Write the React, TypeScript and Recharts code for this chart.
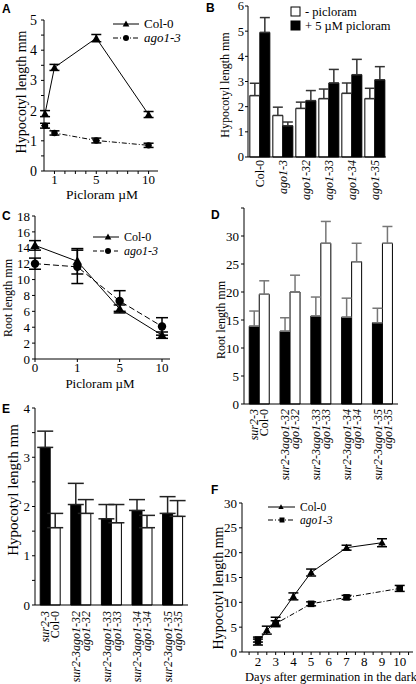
import React from "react";
import { Bar, BarChart, ErrorBar, Line, LineChart, XAxis, YAxis } from "recharts";

const W = 416;
const H = 684;
const SERIF = "'Liberation Serif', 'Times New Roman', serif";
const SANS = "'Liberation Sans', Arial, sans-serif";

// A: hypocotyl length vs picloram
const doseA = [0.1, 1, 5, 10];
const colA = [1.9, 3.43, 4.4, 1.87];
const colAErr = [0.1, 0.1, 0.12, 0.1];
const agoA = [1.5, 1.26, 1.01, 0.85];
const agoAErr = [0.08, 0.07, 0.08, 0.07];

// B: hypocotyl length, -/+ picloram
const linesB = ["Col-0", "ago1-3", "ago1-32", "ago1-33", "ago1-34", "ago1-35"];
const minusB = [2.44, 1.65, 1.93, 2.32, 2.53, 2.32];
const minusBErr = [0.49, 0.33, 0.25, 0.38, 0.41, 0.41];
const plusB = [4.95, 1.24, 2.24, 2.94, 3.27, 3.07];
const plusBErr = [0.59, 0.15, 0.4, 0.54, 0.61, 0.52];

// C: root length vs picloram
const doseC = ["0", "1", "5", "10"];
const colC = [14.3, 12.3, 6.3, 3.0];
const colCErr = [0.6, 1.6, 0.5, 0.4];
const agoC = [12.0, 11.6, 7.3, 4.1];
const agoCErr = [0.7, 2.1, 1.3, 1.1];

// D / E categories
const mutantsDE = ["sur2-3", "sur2-3ago1-32", "sur2-3ago1-33", "sur2-3ago1-34", "sur2-3ago1-35"];
const controlsDE = ["Col-0", "ago1-32", "ago1-33", "ago1-34", "ago1-35"];

// D: root length
const mutantD = [13.9, 13.0, 15.7, 15.5, 14.5];
const mutantDErr = [2.7, 2.4, 3.4, 3.4, 2.6];
const controlD = [19.6, 20.0, 28.7, 25.4, 28.7];
const controlDErr = [2.4, 3.0, 3.9, 3.3, 3.0];

// E: hypocotyl length
const mutantE = [3.2, 2.04, 1.75, 1.92, 1.86];
const mutantEErr = [0.33, 0.43, 0.29, 0.22, 0.34];
const controlE = [1.57, 1.86, 1.67, 1.57, 1.8];
const controlEErr = [0.29, 0.28, 0.37, 0.25, 0.32];

// F: hypocotyl length in the dark
const daysCol = [2, 2.5, 3, 4, 5, 7, 9];
const colF = [2.0, 4.4, 6.2, 11.2, 16.0, 21.0, 22.0];
const colFErr = [0.6, 0.8, 0.8, 0.7, 0.7, 0.5, 0.8];
const daysAgo = [2, 3, 5, 7, 10];
const agoF = [2.5, 5.7, 9.7, 11.0, 12.8];
const agoFErr = [0.5, 0.6, 0.4, 0.4, 0.6];

const dataA = doseA.map((d, i) => ({ dose: d, col: colA[i], colErr: colAErr[i], ago: agoA[i], agoErr: agoAErr[i] }));
const dataB = linesB.map((l, i) => ({
  line: l,
  minus: minusB[i],
  minusErr: [0, minusBErr[i]],
  plus: plusB[i],
  plusErr: [0, plusBErr[i]],
}));
const dataC = doseC.map((d, i) => ({ dose: d, col: colC[i], colErr: colCErr[i], ago: agoC[i], agoErr: agoCErr[i] }));
const dataD = mutantsDE.map((m, i) => ({
  idx: i,
  mutant: mutantD[i],
  mutantErr: [0, mutantDErr[i]],
  control: controlD[i],
  controlErr: [0, controlDErr[i]],
}));
const dataE = mutantsDE.map((m, i) => ({
  idx: i,
  mutant: mutantE[i],
  mutantErr: [0, mutantEErr[i]],
  control: controlE[i],
  controlErr: [0, controlEErr[i]],
}));
const dataFCol = daysCol.map((d, i) => ({ day: d, v: colF[i], err: colFErr[i] }));
const dataFAgo = daysAgo.map((d, i) => ({ day: d, v: agoF[i], err: agoFErr[i] }));

// plot box (page coords) -> chart margins
const box = (l: number, t: number, r: number, b: number, yw = 30, xh = 30) => ({
  left: l - yw,
  top: t,
  right: W - r,
  bottom: H - b - xh,
});

const range = (a: number, b: number, s: number) => {
  const out: number[] = [];
  for (let v = a; v <= b + 1e-9; v += s) out.push(Math.round(v * 100) / 100);
  return out;
};
const intOnly = (v: number) => (Number.isInteger(v) ? String(v) : "");

const tickStyle = (size = 13) => ({ fill: "#000", fontSize: size, fontFamily: SERIF });
const axisProps = { stroke: "#000", axisLine: { stroke: "#000" }, tickLine: { stroke: "#000" } };

const Tri = ({ cx, cy, r }: { cx: number; cy: number; r: number }) => (
  <path d={`M${cx},${cy - r} L${cx + r * 0.95},${cy + r * 0.7} L${cx - r * 0.95},${cy + r * 0.7} Z`} fill="#000" />
);
const Sq = ({ cx, cy, r }: { cx: number; cy: number; r: number }) => (
  <rect x={cx - r} y={cy - r} width={r * 2} height={r * 2} fill="#000" />
);

const triDot = (r: number) => (p: any) => <Tri key={`t${p.index}`} cx={p.cx} cy={p.cy} r={r} />;
const circDot = (r: number) => (p: any) => <circle key={`c${p.index}`} cx={p.cx} cy={p.cy} r={r} fill="#000" />;
const sqDot = (r: number) => (p: any) => <Sq key={`s${p.index}`} cx={p.cx} cy={p.cy} r={r} />;

const Letter = ({ x, y, t }: { x: number; y: number; t: string }) => (
  <text x={x} y={y} fontFamily={SANS} fontWeight="bold" fontSize={12} fill="#000">
    {t}
  </text>
);

const VTitle = ({ x, y, t, size = 13 }: { x: number; y: number; t: string; size?: number }) => (
  <text
    x={x}
    y={y}
    transform={`rotate(-90 ${x} ${y})`}
    textAnchor="middle"
    dominantBaseline="central"
    fontFamily={SERIF}
    fontSize={size}
    fill="#000"
  >
    {t}
  </text>
);

const HTitle = ({ x, y, t, size = 13 }: { x: number; y: number; t: string; size?: number }) => (
  <text x={x} y={y} textAnchor="middle" fontFamily={SERIF} fontSize={size} fill="#000">
    {t}
  </text>
);

const LegendRow = ({
  x1, x2, y, label, marker, dash, italic, size = 12,
}: {
  x1: number; x2: number; y: number; label: string; marker: React.ReactNode; dash?: string; italic?: boolean; size?: number;
}) => (
  <g>
    <line x1={x1} x2={x2} y1={y} y2={y} stroke="#000" strokeWidth={1} strokeDasharray={dash} />
    {marker}
    <text x={x2 + 5} y={y + size * 0.33} fontFamily={SERIF} fontSize={size} fontStyle={italic ? "italic" : "normal"} fill="#000">
      {label}
    </text>
  </g>
);

const RotTick = (props: any) => {
  const { x, y, payload } = props;
  const t = String(payload.value);
  return (
    <text
      x={x}
      y={y}
      transform={`rotate(-90 ${x} ${y})`}
      textAnchor="end"
      dominantBaseline="central"
      fontFamily={SERIF}
      fontSize={12}
      fontStyle={t === "Col-0" ? "normal" : "italic"}
      fill="#000"
    >
      {t}
    </text>
  );
};

const PairTick = (props: any) => {
  const { x, y, payload } = props;
  const i = Number(payload.value);
  const labels = [mutantsDE[i], controlsDE[i]];
  return (
    <g>
      {labels.map((t, k) => {
        const xx = x + (k === 0 ? -5 : 5);
        return (
          <text
            key={k}
            x={xx}
            y={y}
            transform={`rotate(-90 ${xx} ${y})`}
            textAnchor="end"
            dominantBaseline="central"
            fontFamily={SERIF}
            fontSize={12}
            fontStyle={t === "Col-0" ? "normal" : "italic"}
            fill="#000"
          >
            {t}
          </text>
        );
      })}
    </g>
  );
};

const Layer = ({ children }: { children: React.ReactNode }) => (
  <div style={{ position: "absolute", left: 0, top: 0, width: W, height: H }}>{children}</div>
);

function PanelA() {
  return (
    <LineChart width={W} height={H} data={dataA} margin={box(44, 20, 158, 171)}>
      <XAxis
        type="number"
        dataKey="dose"
        domain={[0, 10.9]}
        ticks={range(1, 10, 1)}
        interval={0}
        tickFormatter={(v: number) => ([1, 5, 10].includes(v) ? String(v) : "")}
        tickSize={3}
        tickMargin={1}
        tick={tickStyle(13)}
        height={30}
        {...axisProps}
      />
      <YAxis
        type="number"
        domain={[0, 5]}
        ticks={range(0, 5, 0.5)}
        interval={0}
        tickFormatter={intOnly}
        tickSize={3}
        tickMargin={4}
        tick={tickStyle(14)}
        width={30}
        {...axisProps}
      />
      <Line dataKey="col" stroke="#000" strokeWidth={1} dot={triDot(4)} isAnimationActive={false}>
        <ErrorBar dataKey="colErr" width={5} stroke="#000" direction="y" />
      </Line>
      <Line dataKey="ago" stroke="#000" strokeWidth={1} strokeDasharray="5 2 1 2" dot={circDot(3.2)} isAnimationActive={false}>
        <ErrorBar dataKey="agoErr" width={5} stroke="#000" direction="y" />
      </Line>
      <Letter x={2} y={13} t="A" />
      <VTitle x={21} y={92} t="Hypocotyl length mm" size={14} />
      <HTitle x={102} y={199} t="Picloram µM" size={13.5} />
      <LegendRow x1={113} x2={139} y={24} label="Col-0" size={13} marker={<Tri cx={126} cy={24} r={3.5} />} />
      <LegendRow x1={113} x2={139} y={38} label="ago1-3" italic size={13} dash="5 2 1 2" marker={<circle cx={126} cy={38} r={3} fill="#000" />} />
    </LineChart>
  );
}

function PanelB() {
  return (
    <BarChart width={W} height={H} data={dataB} margin={box(248, 6, 386, 157, 30, 50)} barCategoryGap="8%" barGap={0}>
      <XAxis dataKey="line" type="category" interval={0} tickLine={false} tickSize={0} tickMargin={3} tick={<RotTick />} height={50} stroke="#000" />
      <YAxis
        type="number"
        domain={[0, 6]}
        ticks={range(0, 6, 1)}
        interval={0}
        tickSize={3}
        tickMargin={1}
        tick={tickStyle(12.5)}
        width={30}
        {...axisProps}
      />
      <Bar dataKey="minus" fill="#fff" stroke="#000" strokeWidth={1} isAnimationActive={false}>
        <ErrorBar dataKey="minusErr" width={5} stroke="#333" direction="y" />
      </Bar>
      <Bar dataKey="plus" fill="#000" stroke="#000" strokeWidth={1} isAnimationActive={false}>
        <ErrorBar dataKey="plusErr" width={5} stroke="#333" direction="y" />
      </Bar>
      <Letter x={206} y={12} t="B" />
      <VTitle x={225} y={85} t="Hypocotyl length mm" size={12} />
      <rect x={291} y={7} width={9} height={9} fill="#fff" stroke="#000" />
      <text x={305} y={16} fontFamily={SERIF} fontSize={12.5} fill="#000">- picloram</text>
      <rect x={291} y={21} width={9} height={9} fill="#000" stroke="#000" />
      <text x={305} y={30} fontFamily={SERIF} fontSize={12.5} fill="#000">+ 5 µM picloram</text>
    </BarChart>
  );
}

function PanelC() {
  return (
    <LineChart width={W} height={H} data={dataC} margin={box(35, 216, 170, 359)}>
      <XAxis
        dataKey="dose"
        type="category"
        scale="point"
        padding={{ left: 0, right: 8 }}
        interval={0}
        tickSize={3}
        tickMargin={1}
        tick={tickStyle(13)}
        height={30}
        {...axisProps}
      />
      <YAxis
        type="number"
        domain={[0, 18]}
        ticks={range(0, 18, 2)}
        interval={0}
        tickSize={3}
        tickMargin={2}
        tick={tickStyle(13)}
        width={30}
        {...axisProps}
      />
      <Line dataKey="col" stroke="#000" strokeWidth={1} dot={triDot(5)} isAnimationActive={false}>
        <ErrorBar dataKey="colErr" width={6} stroke="#000" direction="y" />
      </Line>
      <Line dataKey="ago" stroke="#000" strokeWidth={1} strokeDasharray="6 3" dot={circDot(4.2)} isAnimationActive={false}>
        <ErrorBar dataKey="agoErr" width={6} stroke="#000" direction="y" />
      </Line>
      <Letter x={2} y={220} t="C" />
      <VTitle x={8} y={298} t="Root length mm" size={12} />
      <HTitle x={100} y={388} t="Picloram µM" size={13} />
      <LegendRow x1={93} x2={119} y={237} label="Col-0" marker={<Tri cx={108} cy={237} r={3.5} />} />
      <LegendRow x1={93} x2={119} y={251} label="ago1-3" italic dash="4 3" marker={<circle cx={108} cy={251} r={3} fill="#000" />} />
    </LineChart>
  );
}

function PanelD() {
  return (
    <BarChart width={W} height={H} data={dataD} margin={box(244, 208, 398, 404, 30, 60)} barCategoryGap="17%" barGap={0}>
      <XAxis dataKey="idx" type="category" interval={0} tickLine={false} tickSize={0} tickMargin={5} tick={<PairTick />} height={60} stroke="#000" />
      <YAxis
        type="number"
        domain={[0, 35]}
        ticks={range(0, 35, 5)}
        interval={0}
        tickFormatter={(v: number) => (v === 35 ? "" : String(v))}
        tickSize={3}
        tickMargin={2}
        tick={tickStyle(13)}
        width={30}
        {...axisProps}
      />
      <Bar dataKey="mutant" fill="#000" stroke="#000" strokeWidth={1} isAnimationActive={false}>
        <ErrorBar dataKey="mutantErr" width={5} stroke="#777" direction="y" />
      </Bar>
      <Bar dataKey="control" fill="#fff" stroke="#000" strokeWidth={1} isAnimationActive={false}>
        <ErrorBar dataKey="controlErr" width={5} stroke="#777" direction="y" />
      </Bar>
      <Letter x={211} y={219} t="D" />
      <VTitle x={221} y={320} t="Root length mm" size={12} />
    </BarChart>
  );
}

function PanelE() {
  return (
    <BarChart width={W} height={H} data={dataE} margin={box(35, 408, 188, 605, 30, 70)} barCategoryGap="17%" barGap={0}>
      <XAxis dataKey="idx" type="category" interval={0} tickLine={false} tickSize={0} tickMargin={6} tick={<PairTick />} height={70} stroke="#000" />
      <YAxis
        type="number"
        domain={[0, 4]}
        ticks={range(0, 4, 0.5)}
        interval={0}
        tickFormatter={intOnly}
        tickSize={3}
        tickMargin={2}
        tick={tickStyle(13)}
        width={30}
        {...axisProps}
      />
      <Bar dataKey="mutant" fill="#000" stroke="#000" strokeWidth={1} isAnimationActive={false}>
        <ErrorBar dataKey="mutantErr" width={8} stroke="#222" direction="y" />
      </Bar>
      <Bar dataKey="control" fill="#fff" stroke="#000" strokeWidth={1} isAnimationActive={false}>
        <ErrorBar dataKey="controlErr" width={8} stroke="#222" direction="y" />
      </Bar>
      <Letter x={2} y={413} t="E" />
      <VTitle x={13} y={490} t="Hypocotyl length mm" size={15} />
    </BarChart>
  );
}

function PanelF() {
  return (
    <LineChart width={W} height={H} margin={box(242, 503, 413, 652, 30, 20)}>
      <XAxis
        type="number"
        dataKey="day"
        domain={[1.1, 10.75]}
        ticks={range(1.5, 10.5, 0.5)}
        interval={0}
        tickFormatter={intOnly}
        tickSize={3}
        tickMargin={2}
        tick={tickStyle(13)}
        height={20}
        allowDuplicatedCategory={false}
        {...axisProps}
      />
      <YAxis
        type="number"
        domain={[0, 30]}
        ticks={range(0, 30, 5)}
        interval={0}
        tickSize={3}
        tickMargin={2}
        tick={tickStyle(13)}
        width={30}
        {...axisProps}
      />
      <Line data={dataFCol} dataKey="v" stroke="#000" strokeWidth={1} dot={triDot(4)} isAnimationActive={false}>
        <ErrorBar dataKey="err" width={5} stroke="#000" direction="y" />
      </Line>
      <Line data={dataFAgo} dataKey="v" stroke="#000" strokeWidth={1} strokeDasharray="5 2 1 2" dot={sqDot(3.3)} isAnimationActive={false}>
        <ErrorBar dataKey="err" width={5} stroke="#000" direction="y" />
      </Line>
      <Letter x={211} y={494} t="F" />
      <VTitle x={218} y={588} t="Hypocotyl length mm" size={14} />
      <HTitle x={331} y={681} t="Days after germination in the dark" size={12.5} />
      <LegendRow x1={268} x2={295} y={507} label="Col-0" size={11.5} marker={<Tri cx={281} cy={507} r={2.8} />} />
      <LegendRow x1={268} x2={295} y={520} label="ago1-3" italic size={11.5} dash="5 2 1 2" marker={<Sq cx={282} cy={520} r={2.5} />} />
    </LineChart>
  );
}

export default function App() {
  return (
    <div style={{ position: "absolute", left: 0, top: 0, width: W, height: H, background: "#fff", overflow: "hidden" }}>
      <Layer><PanelA /></Layer>
      <Layer><PanelB /></Layer>
      <Layer><PanelC /></Layer>
      <Layer><PanelD /></Layer>
      <Layer><PanelE /></Layer>
      <Layer><PanelF /></Layer>
    </div>
  );
}
